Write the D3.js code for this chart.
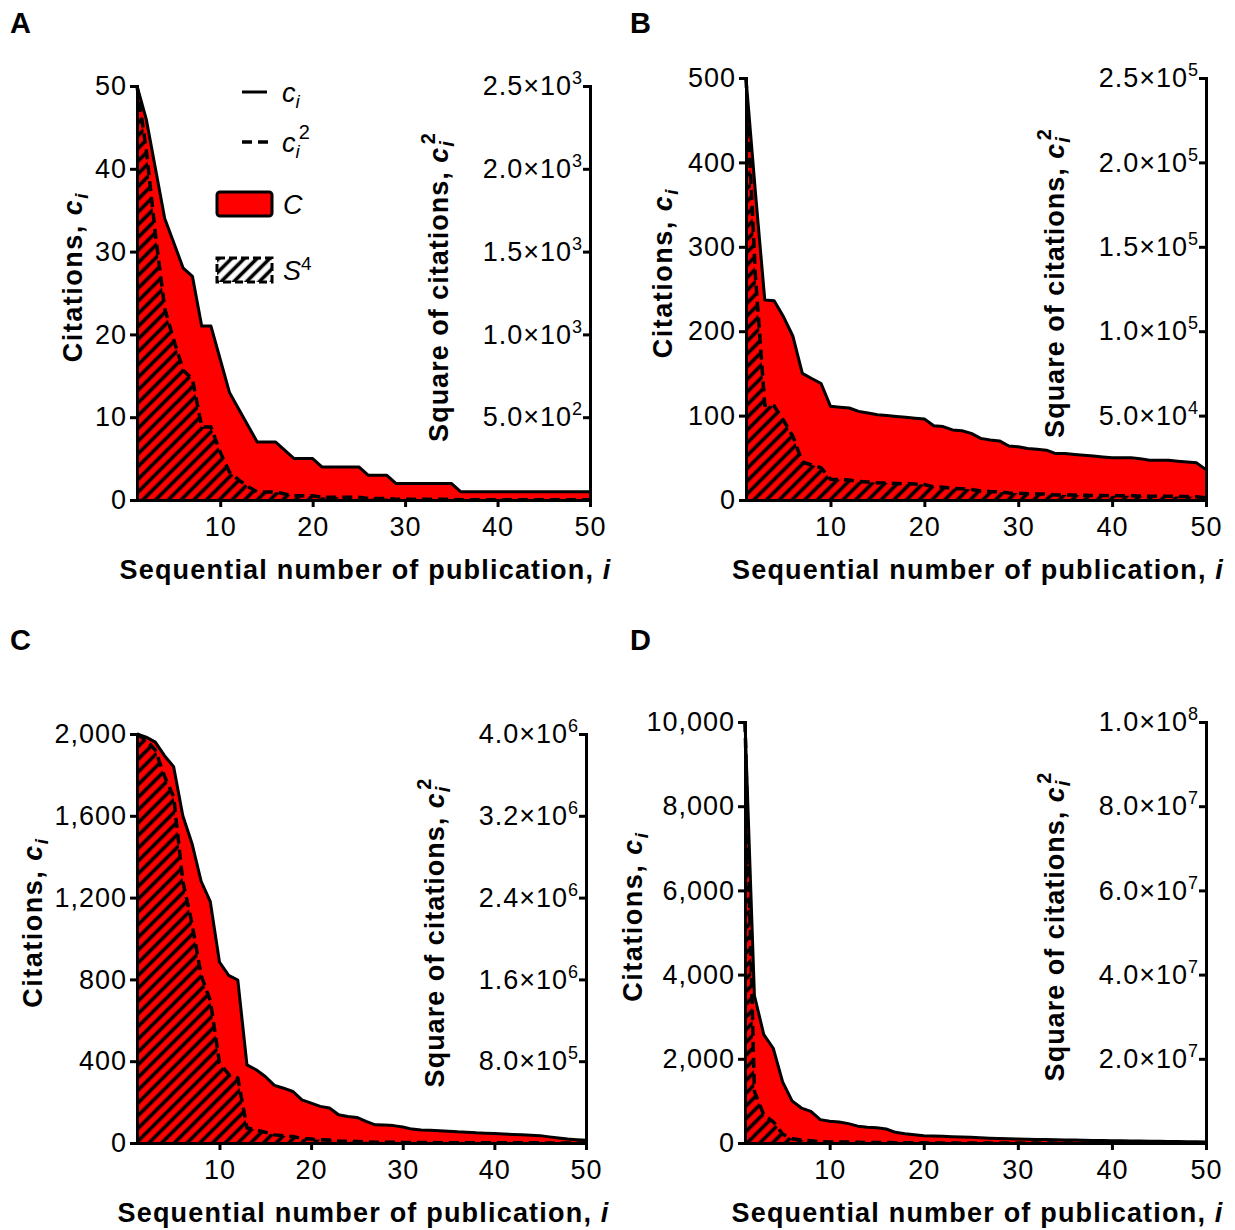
<!DOCTYPE html>
<html>
<head>
<meta charset="utf-8">
<script src="https://cdn.jsdelivr.net/npm/d3@7"></script>
<style>
  body { margin: 0; background: #fff; }
  svg { display: block; font-family: "Liberation Sans", Arial, sans-serif; }
</style>
</head>
<body>
<svg id="chart" width="1235" height="1230"></svg>
<script>
// citations c_i of the first 50 publications (sorted), one array per panel
const citesA = [50, 46, 40, 34, 31, 28, 27, 21, 21, 17, 13, 11, 9, 7, 7, 7, 6, 5, 5, 5,
  4, 4, 4, 4, 4, 3, 3, 3, 2, 2, 2, 2, 2, 2, 2, 1, 1, 1, 1, 1,
  1, 1, 1, 1, 1, 1, 1, 1, 1, 1];
const citesB = [500, 365, 237, 236, 217, 194, 150, 144, 138, 111, 110, 109, 105, 103, 101, 100, 99, 98, 97, 96,
  88, 87, 83, 82, 79, 73, 71, 70, 64, 63, 61, 60, 59, 55, 55, 54, 53, 52, 51, 50,
  50, 50, 49, 47, 47, 47, 46, 45, 44, 36];
const citesC = [2000, 1985, 1960, 1894, 1840, 1600, 1465, 1280, 1180, 885, 820, 797, 382, 358, 325, 282, 268, 252, 211, 195,
  179, 171, 138, 130, 125, 106, 89, 88, 85, 78, 68, 64, 62, 60, 58, 55, 53, 50, 48, 46,
  44, 42, 40, 38, 36, 30, 24, 19, 16, 13];
const citesD = [10000, 3500, 2575, 2250, 1450, 1000, 830, 750, 555, 515, 500, 460, 400, 372, 364, 333, 254, 222, 198, 174,
  165, 158, 150, 142, 135, 125, 115, 108, 100, 95, 90, 86, 82, 78, 74, 70, 66, 62, 58, 55,
  52, 49, 46, 43, 40, 37, 34, 31, 28, 25];

// tick values
const xTicks = [10, 20, 30, 40, 50];
const leftTicksA = [0, 10, 20, 30, 40, 50];
const leftTicksB = [0, 100, 200, 300, 400, 500];
const leftTicksC = [0, 400, 800, 1200, 1600, 2000];
const leftTicksD = [0, 2000, 4000, 6000, 8000, 10000];
const rightTicksA = [500, 1000, 1500, 2000, 2500];
const rightTicksB = [50000, 100000, 150000, 200000, 250000];
const rightTicksC = [800000, 1600000, 2400000, 3200000, 4000000];
const rightTicksD = [20000000, 40000000, 60000000, 80000000, 100000000];

const panels = [
  { name: "A", cites: citesA, leftTicks: leftTicksA, rightTicks: rightTicksA,
    left: 137, right: 590, top: 86, bottom: 500, lx: 10, ly: 33, titleDx: -55, legend: true },
  { name: "B", cites: citesB, leftTicks: leftTicksB, rightTicks: rightTicksB,
    left: 746, right: 1206, top: 78, bottom: 500, lx: 630, ly: 33, titleDx: -74 },
  { name: "C", cites: citesC, leftTicks: leftTicksC, rightTicks: rightTicksC,
    left: 137, right: 586, top: 734, bottom: 1143, lx: 10, ly: 650, titleDx: -95 },
  { name: "D", cites: citesD, leftTicks: leftTicksD, rightTicks: rightTicksD,
    left: 745, right: 1206, top: 722, bottom: 1143, lx: 630, ly: 650, titleDx: -103 }
];

const svg = d3.select("#chart");
const RED = "#ff0000";

// hatch pattern for S^4 area
const defs = svg.append("defs");
defs.append("pattern")
  .attr("id", "hatch")
  .attr("patternUnits", "userSpaceOnUse")
  .attr("width", 9).attr("height", 9)
  .attr("patternTransform", "rotate(45)")
  .append("line")
  .attr("x1", 4.5).attr("y1", 0).attr("x2", 4.5).attr("y2", 9)
  .attr("stroke", "#000").attr("stroke-width", 3.6);

const fmtLeft = d3.format(",");
function sciParts(v) {
  const e = Math.floor(Math.log10(v) + 1e-9);
  return [(v / Math.pow(10, e)).toFixed(1) + "×10", e];
}

function styleAxis(g) {
  g.select(".domain").attr("stroke-width", 3).attr("stroke-linecap", "square");
  g.selectAll(".tick line").attr("stroke-width", 3);
  g.selectAll(".tick text")
    .attr("fill", "#000")
    .style("font-size", "27px")
    .style("letter-spacing", "1px");
}

panels.forEach((p) => {
  const g = svg.append("g");
  const yMax = d3.max(p.leftTicks);
  const x = d3.scaleLinear().domain([1, 50]).range([p.left, p.right]);
  const y = d3.scaleLinear().domain([0, yMax]).range([p.bottom, p.top]);
  const yR = d3.scaleLinear().domain([0, yMax * yMax]).range([p.bottom, p.top]);

  const rows = p.cites.map((c, k) => ({ i: k + 1, c: c, c2: c * c }));

  // C: area under c_i
  g.append("path")
    .datum(rows)
    .attr("fill", RED)
    .attr("d", d3.area().x((d) => x(d.i)).y0(p.bottom).y1((d) => y(d.c)));

  // S^4: hatched area under c_i^2
  g.append("path")
    .datum(rows)
    .attr("fill", "url(#hatch)")
    .attr("d", d3.area().x((d) => x(d.i)).y0(p.bottom).y1((d) => yR(d.c2)));

  // c_i^2 dashed
  g.append("path")
    .datum(rows)
    .attr("fill", "none")
    .attr("stroke", "#000")
    .attr("stroke-width", 3.5)
    .attr("stroke-dasharray", "10,6")
    .attr("d", d3.line().x((d) => x(d.i)).y((d) => yR(d.c2)));

  // c_i solid
  g.append("path")
    .datum(rows)
    .attr("fill", "none")
    .attr("stroke", "#000")
    .attr("stroke-width", 3)
    .attr("stroke-linejoin", "round")
    .attr("d", d3.line().x((d) => x(d.i)).y((d) => y(d.c)));

  // axes
  g.append("g")
    .attr("transform", `translate(${p.left},0)`)
    .call(d3.axisLeft(y).tickValues(p.leftTicks).tickFormat(fmtLeft)
      .tickSize(7).tickSizeOuter(0).tickPadding(3))
    .call(styleAxis);

  g.append("g")
    .attr("transform", `translate(0,${p.bottom})`)
    .call(d3.axisBottom(x).tickValues(xTicks).tickSize(7).tickSizeOuter(0).tickPadding(10))
    .call(styleAxis);

  const rAxis = g.append("g")
    .attr("transform", `translate(${p.right},0)`)
    .call(d3.axisLeft(yR).tickValues(p.rightTicks).tickSize(7).tickSizeOuter(0).tickPadding(3))
    .call(styleAxis);
  rAxis.selectAll(".tick text").each(function (v) {
    const t = d3.select(this).text(null).attr("x", -8);
    const parts = sciParts(v);
    t.append("tspan").text(parts[0]);
    t.append("tspan").attr("dy", -11).style("font-size", "18px").style("letter-spacing", "0px").text(parts[1]);
  });

  // axis titles
  const cy = (p.top + p.bottom) / 2;
  const tl = g.append("text")
    .attr("transform", `translate(${p.left + p.titleDx},${cy - 16}) rotate(-90)`)
    .attr("text-anchor", "middle")
    .style("font-size", "27px").style("font-weight", "bold").style("letter-spacing", "1.5px");
  tl.append("tspan").text("Citations, ");
  tl.append("tspan").style("font-style", "italic").text("c");
  tl.append("tspan").style("font-style", "italic").style("font-size", "19px").attr("dy", 6).text("i");

  const tr = g.append("text")
    .attr("transform", `translate(${p.right - 142},${cy - 6}) rotate(-90)`)
    .attr("text-anchor", "middle")
    .style("font-size", "27px").style("font-weight", "bold").style("letter-spacing", "1px");
  tr.append("tspan").text("Square of citations, ");
  tr.append("tspan").style("font-style", "italic").text("c");
  tr.append("tspan").style("font-style", "italic").style("font-size", "20px").attr("dy", 6).text("i");
  tr.append("tspan").style("font-size", "20px").attr("dx", -4).attr("dy", -19).text("2");

  const tx = g.append("text")
    .attr("x", (p.left + p.right) / 2 + 2)
    .attr("y", p.bottom + 79)
    .attr("text-anchor", "middle")
    .style("font-size", "27px").style("font-weight", "bold").style("letter-spacing", "1.2px");
  tx.append("tspan").text("Sequential number of publication, ");
  tx.append("tspan").style("font-style", "italic").text("i");

  // panel letter
  svg.append("text")
    .attr("x", p.lx).attr("y", p.ly)
    .style("font-size", "29px").style("font-weight", "bold")
    .text(p.name);

  if (p.legend) {
    const lg = svg.append("g").style("font-size", "27px").style("font-style", "italic");
    lg.append("line").attr("x1", 242).attr("x2", 267).attr("y1", 92).attr("y2", 92)
      .attr("stroke", "#000").attr("stroke-width", 3);
    const t1 = lg.append("text").attr("x", 282).attr("y", 102);
    t1.append("tspan").text("c");
    t1.append("tspan").style("font-size", "19px").attr("dy", 6).text("i");

    lg.append("line").attr("x1", 242).attr("x2", 268).attr("y1", 142).attr("y2", 142)
      .attr("stroke", "#000").attr("stroke-width", 3.5).attr("stroke-dasharray", "10,6");
    const t2 = lg.append("text").attr("x", 282).attr("y", 152);
    t2.append("tspan").text("c");
    t2.append("tspan").style("font-size", "19px").attr("dy", 6).text("i");
    t2.append("tspan").style("font-size", "20px").style("font-style", "normal").attr("dx", -1).attr("dy", -19).text("2");

    lg.append("rect").attr("x", 217).attr("y", 192).attr("width", 55).attr("height", 24).attr("rx", 3)
      .attr("fill", RED).attr("stroke", "#000").attr("stroke-width", 3);
    lg.append("text").attr("x", 283).attr("y", 214).text("C");

    lg.append("rect").attr("x", 217).attr("y", 258).attr("width", 55).attr("height", 24)
      .attr("fill", "#fff");
    lg.append("rect").attr("x", 217).attr("y", 258).attr("width", 55).attr("height", 24)
      .attr("fill", "url(#hatch)").attr("stroke", "#000").attr("stroke-width", 3)
      .attr("stroke-dasharray", "8,4");
    const t4 = lg.append("text").attr("x", 283).attr("y", 280);
    t4.append("tspan").text("S");
    t4.append("tspan").style("font-size", "19px").style("font-style", "normal").attr("dy", -10).text("4");
  }
});
</script>
</body>
</html>
